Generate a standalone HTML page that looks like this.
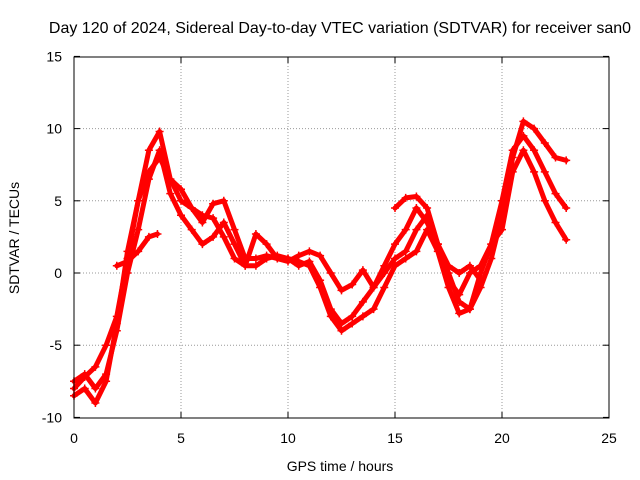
<!DOCTYPE html>
<html><head><meta charset="utf-8"><style>
body{margin:0;background:#fff;}
svg{display:block;font-family:"Liberation Sans",sans-serif;}
</style></head><body>
<svg id="chart" width="640" height="480">
<rect x="0" y="0" width="640" height="480" fill="#fff"/>
<text x="340" y="33" font-size="16" text-anchor="middle">Day 120 of 2024, Sidereal Day-to-day VTEC variation (SDTVAR) for receiver san0</text>
<g id="grid"></g>
<g id="axes"></g>
<g id="series"></g>
<text x="340" y="471" font-size="14" text-anchor="middle">GPS time / hours</text>
<text transform="translate(19,238) rotate(-90)" font-size="14" text-anchor="middle">SDTVAR / TECUs</text>
<rect x="74" y="57" width="535" height="361" fill="none" stroke="#000" stroke-width="1"/>
</svg>
<script>
const xTicks=[0,5,10,15,20,25];
const yTicks=[-10,-5,0,5,10,15];
const hoursA=[0,0.5,1,1.5,2,2.5,3,3.5,4,4.5,5,5.5,6,6.5,7,7.5,8,8.5,9,9.5,10,10.5,11,11.5,12,12.5,13,13.5,14,14.5,15,15.5,16,16.5,17,17.5,18,18.5,19,19.5,20,20.5,21,21.5,22,22.5,23];
const series1=[-8,-7.2,-6.5,-5,-3,1,5,8.5,9.8,6.5,5,4.5,3.5,4.8,5,3,1,1,1.2,1,0.8,1.2,1.5,1.2,0,-1.2,-0.8,0.2,-1,0.5,2,3,4.5,3.5,2,0,-2,-2.5,-1,1,4,8,10.5,10,9,8,7.8];
const series2=[-7.5,-7,-8,-7,-4,0,3,6.5,8.5,5.5,4,3,2,2.5,3.5,2,0.5,0.5,1,1.2,1,0.5,0.8,-0.5,-2.5,-3.5,-3,-2,-1,0,1,1.5,3,4,2,-0.5,-1.5,0,0.5,2,5,8.5,9.5,8.5,7,5.5,4.5];
const series3=[-8.5,-8,-9,-7.5,-3.5,1.5,5,7,8,6.5,5.8,4.5,4,3.8,2.5,1,0.5,2.7,2,1,1,0.8,0.5,-1,-3,-4,-3.5,-3,-2.5,-1,0.5,1,1.5,3,1.5,-1,-2.8,-2.5,0,2,3,7,8.5,7,5,3.5,2.3];
const hoursB=[2,2.5,3,3.5,3.9];
const series4=[0.5,0.8,1.5,2.5,2.7];
const hoursC=[15,15.5,16,16.5,17,17.5,18,18.5,19];
const series5=[4.5,5.2,5.3,4.5,2,0.5,0,0.5,-0.5];
const X=h=>74+h*(535/25);
const Y=v=>273-v*(361/25);
const NS='http://www.w3.org/2000/svg';
function mk(tag,attrs,parent){const e=document.createElementNS(NS,tag);for(const k in attrs)e.setAttribute(k,attrs[k]);parent.appendChild(e);return e;}
const grid=document.getElementById('grid'),axes=document.getElementById('axes'),ser=document.getElementById('series');
xTicks.forEach(t=>{
  if(t>0&&t<25){const l=mk('line',{x1:X(t),x2:X(t),y1:57,y2:418,stroke:'#999','stroke-dasharray':'1,2'},grid);
  
  }
  mk('line',{x1:X(t),x2:X(t),y1:418,y2:412,stroke:'#000'},axes);
  mk('line',{x1:X(t),x2:X(t),y1:57,y2:63,stroke:'#000'},axes);
  const tx=mk('text',{x:X(t),y:443,'font-size':14,'text-anchor':'middle'},axes);tx.textContent=t;
  
  
});
yTicks.forEach(t=>{
  if(t>-10&&t<15){const l=mk('line',{x1:74,x2:609,y1:Y(t),y2:Y(t),stroke:'#999','stroke-dasharray':'1,2'},grid);
  
  }
  mk('line',{x1:74,x2:80,y1:Y(t),y2:Y(t),stroke:'#000'},axes);
  mk('line',{x1:603,x2:609,y1:Y(t),y2:Y(t),stroke:'#000'},axes);
  const tx=mk('text',{x:62,y:Y(t)+5,'font-size':14,'text-anchor':'end'},axes);tx.textContent=t;
  
  
});
function draw(hs,vs,name){
  const g=mk('g',{},ser);
  
  
  mk('polyline',{points:hs.map((h,i)=>X(h)+','+Y(vs[i])).join(' '),fill:'none',stroke:'#f00','stroke-width':5,'stroke-linejoin':'round','stroke-linecap':'round'},g);
  hs.forEach((h,i)=>{const x=X(h),y=Y(vs[i]);
    mk('path',{d:`M${x-4},${y}H${x+4}M${x},${y-4}V${y+4}`,stroke:'#f00','stroke-width':1.5},g);});
}
draw(hoursA,series1,'series-1');
draw(hoursA,series2,'series-2');
draw(hoursA,series3,'series-3');
draw(hoursB,series4,'series-4');
draw(hoursC,series5,'series-5');
</script>
</body></html>
